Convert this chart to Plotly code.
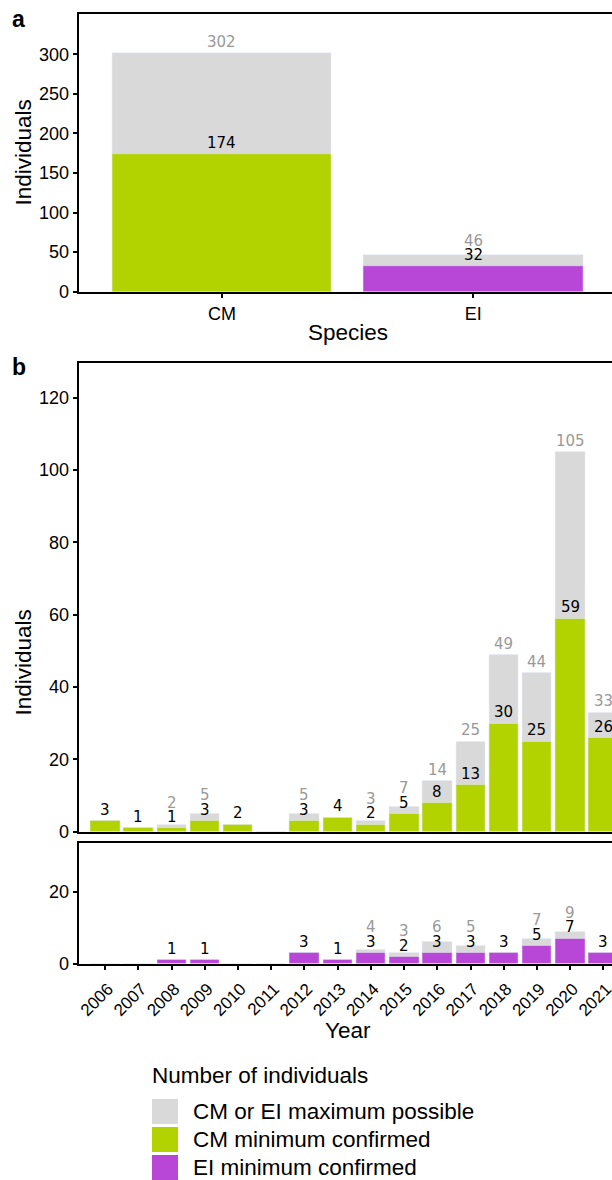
import plotly.graph_objects as go

# ---------------- data ----------------
species = ["CM", "EI"]
species_max = [302, 46]
species_min = [174, 32]

years = list(range(2006, 2022))
year_labels = [str(y) for y in years]
cm_min = [3, 1, 1, 3, 2, 0, 3, 4, 2, 5, 8, 13, 30, 25, 59, 26]
cm_max = [3, 1, 2, 5, 2, 0, 5, 4, 3, 7, 14, 25, 49, 44, 105, 33]
ei_min = [0, 0, 1, 1, 0, 0, 3, 1, 3, 2, 3, 3, 3, 5, 7, 3]
ei_max = [0, 0, 1, 1, 0, 0, 3, 1, 4, 3, 6, 5, 3, 7, 9, 3]

legend_labels = ["CM or EI maximum possible", "CM minimum confirmed", "EI minimum confirmed"]

# ---------------- style ----------------
GREY = "#D9D9D9"
GREEN = "#B2D300"
PURPLE = "#B847D8"
GREY_TXT = "#999999"
W, H = 612, 1180
TICKFONT = dict(family="Liberation Sans, Arial, sans-serif", size=18, color="black")
YEARFONT = dict(family="Liberation Sans, Arial, sans-serif", size=17, color="black")
TITLEFONT = dict(family="Liberation Sans, Arial, sans-serif", size=22.5, color="black")
LABFONT = "DejaVu Sans, Verdana, sans-serif"


def px_x(p):
    return p / W


def px_y(p):
    return 1 - p / H


# panel geometry (pixels)
XDOM_PX = (79.3, 612)
YA_PX = (14, 291.7)
YB1_PX = (362.7, 831.7)
YB2_PX = (842.7, 963.7)
YA_RANGE = [0, 351]
YB1_RANGE = [0, 129.7]
YB2_RANGE = [0, 33.6]

fig = go.Figure()

# panel a
fig.add_trace(go.Bar(x=species, y=species_max, marker_color=GREY, width=0.873,
                     xaxis="x", yaxis="y", showlegend=False))
fig.add_trace(go.Bar(x=species, y=species_min, marker_color=[GREEN, PURPLE], width=0.873,
                     xaxis="x", yaxis="y", showlegend=False))

# panel b upper (CM)
fig.add_trace(go.Bar(x=years, y=cm_max, marker_color=GREY, width=0.885,
                     xaxis="x2", yaxis="y2", showlegend=False))
fig.add_trace(go.Bar(x=years, y=cm_min, marker_color=GREEN, width=0.885,
                     xaxis="x2", yaxis="y2", showlegend=False))
# panel b lower (EI)
fig.add_trace(go.Bar(x=years, y=ei_max, marker_color=GREY, width=0.885,
                     xaxis="x3", yaxis="y3", showlegend=False))
fig.add_trace(go.Bar(x=years, y=ei_min, marker_color=PURPLE, width=0.885,
                     xaxis="x3", yaxis="y3", showlegend=False))

ann = []


def lab(x, y, txt, col, xr, yr, shift=0.0):
    ann.append(dict(x=x, y=y, xref=xr, yref=yr, text=txt, showarrow=False,
                    yanchor="bottom", xanchor="center", yshift=shift,
                    font=dict(family=LABFONT, size=15, color=col)))


def add_pair_labels(xs, mxs, mns, xr, yr, ypx, yrange, always=False):
    ppu = (ypx[1] - ypx[0]) / (yrange[1] - yrange[0])  # pixels per unit
    for x, mx, mn in zip(xs, mxs, mns):
        if mn > 0:
            lab(x, mn, str(mn), "black", xr, yr)
        if mx > mn or always:
            gap = (mx - mn) * ppu
            # repel the grey label upward when it would collide with the black one
            lab(x, mx, str(mx), GREY_TXT, xr, yr, shift=max(0.0, 14.5 - gap))


add_pair_labels(species, species_max, species_min, "x", "y", YA_PX, YA_RANGE, always=True)
add_pair_labels(years, cm_max, cm_min, "x2", "y2", YB1_PX, YB1_RANGE)
add_pair_labels(years, ei_max, ei_min, "x3", "y3", YB2_PX, YB2_RANGE)


def txt(x, y, t, font, angle=0, xanchor="center"):
    ann.append(dict(x=px_x(x), y=px_y(y), xref="paper", yref="paper", text=t,
                    showarrow=False, textangle=angle, xanchor=xanchor, yanchor="middle",
                    font=font))


txt(22.5, 153, "Individuals", TITLEFONT, -90)
txt(22.5, 663, "Individuals", TITLEFONT, -90)
txt(347.5, 332, "Species", TITLEFONT)
txt(348, 1030, "Year", TITLEFONT)
bold = dict(family="Liberation Sans, Arial, sans-serif", size=23, color="black")
txt(10, 19, "<b>a</b>", bold, xanchor="left")
txt(10, 367, "<b>b</b>", bold, xanchor="left")

# legend (drawn manually for large keys)
txt(150, 1075, "Number of individuals", TITLEFONT, xanchor="left")
legend_colors = [GREY, GREEN, PURPLE]
shapes = []
key_tops = [1099, 1127, 1155]
for lbl, col, top in zip(legend_labels, legend_colors, key_tops):
    shapes.append(dict(type="rect", xref="paper", yref="paper",
                       x0=px_x(152), x1=px_x(178), y0=px_y(top + 25), y1=px_y(top),
                       fillcolor=col, line=dict(width=0)))
    txt(190.5, top + 12.5, lbl, TITLEFONT, xanchor="left")

axis_common = dict(showline=True, linecolor="black", linewidth=1.5, showgrid=False,
                   zeroline=False, tickfont=TICKFONT, automargin=False,
                   tickcolor="black", tickwidth=1.5, ticklen=5)

xdom = [px_x(XDOM_PX[0]), px_x(XDOM_PX[1])]

fig.update_layout(
    width=W, height=H, margin=dict(l=0, r=0, t=0, b=0),
    plot_bgcolor="white", paper_bgcolor="white", barmode="overlay",
    bargap=0, showlegend=False,
    xaxis=dict(axis_common, domain=xdom, anchor="y", type="category",
               range=[-0.568, 1.5525], mirror=True, ticks="outside"),
    yaxis=dict(axis_common, domain=[px_y(YA_PX[1]), px_y(YA_PX[0])], anchor="x",
               range=YA_RANGE, tickvals=[0, 50, 100, 150, 200, 250, 300], ticks="outside"),
    xaxis2=dict(axis_common, domain=xdom, anchor="y2", range=[2005.22, 2021.26],
                mirror=True, ticks="", showticklabels=False, tickvals=years),
    yaxis2=dict(axis_common, domain=[px_y(YB1_PX[1]), px_y(YB1_PX[0])], anchor="x2",
                range=YB1_RANGE, tickvals=[0, 20, 40, 60, 80, 100, 120], ticks="outside"),
    xaxis3=dict(axis_common, domain=xdom, anchor="y3", range=[2005.22, 2021.26],
                mirror=True, ticks="outside", tickvals=years, ticktext=year_labels,
                tickangle=-45, tickfont=YEARFONT, ticklabeloverflow="allow",
                ticklabelstandoff=2, ticklabelshift=3),
    yaxis3=dict(axis_common, domain=[px_y(YB2_PX[1]), px_y(YB2_PX[0])], anchor="x3",
                range=YB2_RANGE, tickvals=[0, 20], ticks="outside"),
    annotations=ann, shapes=shapes,
)

fig.write_html("out.html", config={"displayModeBar": False},
               post_script="document.body.style.margin='0';document.body.style.overflow='hidden';")
